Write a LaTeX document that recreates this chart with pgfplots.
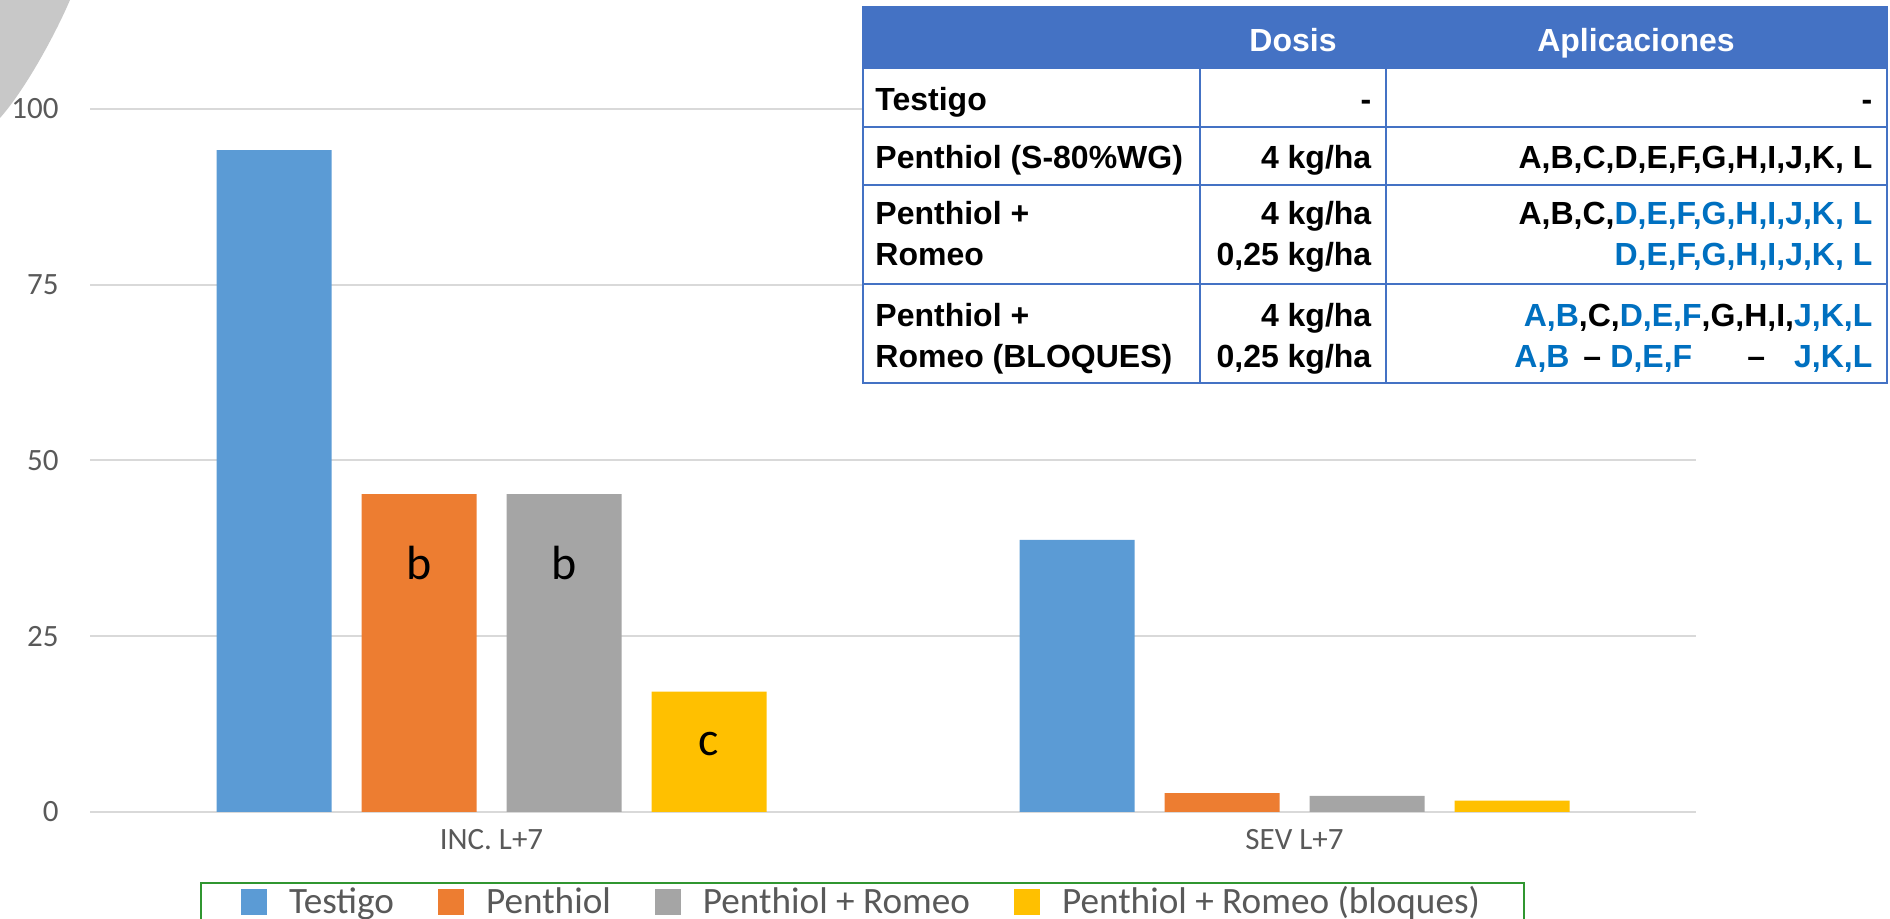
\documentclass[border=0pt]{standalone}
\usepackage{pgfplots}
\pgfplotsset{compat=1.18}
\usepackage{fontspec}
\setmainfont{Liberation Sans}
\newfontfamily\calibri{Carlito}
\definecolor{cBlue}{HTML}{5B9BD5}
\definecolor{cOrange}{HTML}{ED7D31}
\definecolor{cGray}{HTML}{A5A5A5}
\definecolor{cYellow}{HTML}{FFC000}
\definecolor{txtgray}{HTML}{595959}
\definecolor{gridgray}{HTML}{D9D9D9}
\definecolor{hdrBlue}{HTML}{4472C4}
\definecolor{appBlue}{HTML}{0070C0}
\definecolor{legGreen}{RGB}{48,150,48}
\definecolor{swoosh}{RGB}{200,200,200}
\begin{document}
\begin{tikzpicture}
\useasboundingbox (0,0) rectangle (945pt,459.5pt);
% decorative swoosh (top-left)
\begin{scope}[shift={(0pt,459.5pt)}, x=0.5pt, y=-0.5pt]
\fill[swoosh] (0,0) -- (70,0) .. controls (55,35) and (25,90) .. (0,118) -- cycle;
\end{scope}
\begin{axis}[
 at={(45pt,53.5pt)}, anchor=south west,
 scale only axis, width=803pt, height=351.65pt,
 xmin=-0.5, xmax=1.5, ymin=0, ymax=100,
 enlargelimits=false,
 ybar=15pt, bar width=57.5pt,
 xtick={0,1}, xticklabels={INC. L+7, SEV L+7},
 ytick={0,25,50,75,100},
 ymajorgrids, major grid style={draw=gridgray, line width=1pt},
 axis line style={draw=none},
 major tick length=0pt, tick style={draw=none},
 /pgf/number format/assume math mode=true,
 ticklabel style={font=\calibri\fontsize{15.5}{18}\selectfont, text=txtgray},
 yticklabel style={anchor=east, inner sep=0pt, xshift=-15.5pt},
 xticklabel style={anchor=base, inner sep=0pt, yshift=-19pt},
 legend columns=4, legend cell align=left,
 legend image code/.code={\fill[#1] (0pt,-5.2pt) rectangle (13pt,7.8pt);},
 legend style={at={(axis description cs:0.0685,-0.0991)}, anchor=north west,
   draw=legGreen, line width=1pt, inner xsep=20pt, inner ysep=2.3pt,
   font=\calibri\fontsize{18.6}{22}\selectfont, text=txtgray,
   nodes={inner ysep=0pt, text height=13pt, text depth=4pt},
   column sep=0pt,
   /tikz/every odd column/.append style={column sep=9pt},
   /tikz/every even column/.append style={column sep=20pt}},
]
\addplot[draw=none, fill=cBlue] coordinates {(0,94.1) (1,38.7)};
\addlegendentry{Testigo}
\addplot[draw=none, fill=cOrange] coordinates {(0,45.2) (1,2.7)};
\addlegendentry{Penthiol}
\addplot[draw=none, fill=cGray] coordinates {(0,45.2) (1,2.3)};
\addlegendentry{Penthiol + Romeo}
\addplot[draw=none, fill=cYellow] coordinates {(0,17.1) (1,1.6)};
\addlegendentry{Penthiol + Romeo (bloques)}
\node[font=\calibri\fontsize{24}{28}\selectfont, xshift=-36.25pt] at (axis cs:0,35.4) {b};
\node[font=\calibri\fontsize{24}{28}\selectfont, xshift=36.25pt] at (axis cs:0,35.4) {b};
\node[font=\calibri\fontsize{24}{28}\selectfont, xshift=108.75pt] at (axis cs:0,9.6) {c};
\end{axis}
% table overlay, coordinates in reference pixels
\begin{scope}[shift={(0pt,459.5pt)}, x=0.5pt, y=-0.5pt, font=\bfseries\fontsize{16}{19}\selectfont]
\fill[white] (862.7,7.3) rectangle (1886.7,382.7);
\fill[hdrBlue] (862.7,7.3) rectangle (1886.7,69.3);
\draw[hdrBlue, line width=1pt] (862.7,7.3) rectangle (1886.7,382.7);
\draw[hdrBlue, line width=1pt] (862.7,126.7) -- (1886.7,126.7);
\draw[hdrBlue, line width=1pt] (862.7,185.3) -- (1886.7,185.3);
\draw[hdrBlue, line width=1pt] (862.7,284.3) -- (1886.7,284.3);
\draw[hdrBlue, line width=1pt] (1200,69.3) -- (1200,382.7);
\draw[hdrBlue, line width=1pt] (1386,69.3) -- (1386,382.7);
\node[anchor=base, text=white, inner sep=0pt] at (1293,51.8) {Dosis};
\node[anchor=base, text=white, inner sep=0pt] at (1636,51.8) {Aplicaciones};
% row 1
\node[anchor=base west, inner sep=0pt] at (875,110.2) {Testigo};
\node[anchor=base east, inner sep=0pt] at (1371.7,110.2) {-};
\node[anchor=base east, inner sep=0pt] at (1872.7,110.2) {-};
% row 2
\node[anchor=base west, inner sep=0pt] at (875,169) {Penthiol (S-80\%WG)};
\node[anchor=base east, inner sep=0pt] at (1371.7,169) {4 kg/ha};
\node[anchor=base east, inner sep=0pt] at (1872.7,169) {A,B,C,D,E,F,G,H,I,J,K, L};
% row 3
\node[anchor=base west, inner sep=0pt] at (875,224.8) {Penthiol +};
\node[anchor=base west, inner sep=0pt] at (875,265.2) {Romeo};
\node[anchor=base east, inner sep=0pt] at (1371.7,224.8) {4 kg/ha};
\node[anchor=base east, inner sep=0pt] at (1371.7,265.2) {0,25 kg/ha};
\node[anchor=base east, inner sep=0pt] at (1872.7,224.8) {A,B,C,\textcolor{appBlue}{D,E,F,G,H,I,J,K, L}};
\node[anchor=base east, inner sep=0pt, text=appBlue] at (1872.7,265.2) {D,E,F,G,H,I,J,K, L};
% row 4
\node[anchor=base west, inner sep=0pt] at (875,326.5) {Penthiol +};
\node[anchor=base west, inner sep=0pt] at (875,367.2) {Romeo (BLOQUES)};
\node[anchor=base east, inner sep=0pt] at (1371.7,326.5) {4 kg/ha};
\node[anchor=base east, inner sep=0pt] at (1371.7,367.2) {0,25 kg/ha};
\node[anchor=base east, inner sep=0pt] at (1872.7,326.5) {\textcolor{appBlue}{A,B},C,\textcolor{appBlue}{D,E,F},G,H,I,\textcolor{appBlue}{J,K,L}};
\node[anchor=base west, inner sep=0pt, text=appBlue] at (1514,367.2) {A,B};
\node[anchor=base west, inner sep=0pt] at (1583,367.2) {–};
\node[anchor=base west, inner sep=0pt, text=appBlue] at (1610,367.2) {D,E,F};
\node[anchor=base west, inner sep=0pt] at (1747,367.2) {–};
\node[anchor=base east, inner sep=0pt, text=appBlue] at (1872.7,367.2) {J,K,L};
\end{scope}
\end{tikzpicture}
\end{document}
